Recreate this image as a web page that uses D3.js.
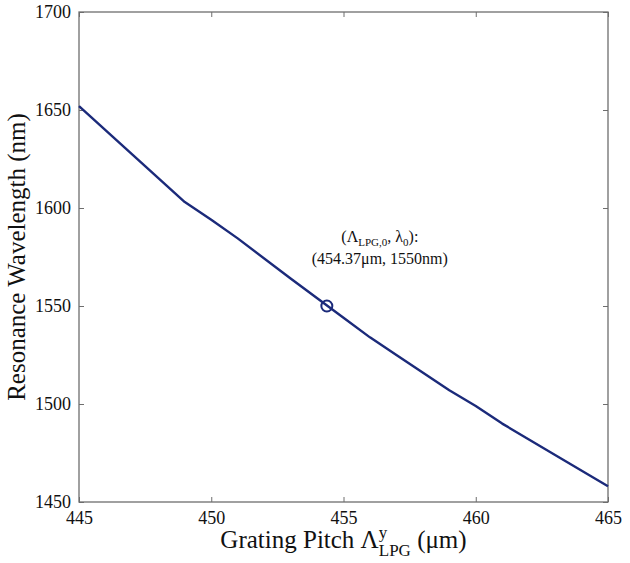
<!DOCTYPE html>
<html>
<head>
<meta charset="utf-8">
<script src="https://cdn.jsdelivr.net/npm/d3@7"></script>
<style>
  body { margin: 0; background: #fff; }
  svg text { font-family: "Liberation Serif", "DejaVu Serif", serif; fill: #111; }
</style>
</head>
<body>
<svg id="chart" width="630" height="563"></svg>
<script>
// data
const pitch = [445, 447, 449, 450, 451, 453, 455, 456, 457, 459, 460, 461, 463, 465];
const wavelength = [1652, 1627.5, 1603, 1594, 1584.5, 1564, 1544, 1534, 1525, 1507, 1499, 1490, 1474, 1458];
const xTicks = [445, 450, 455, 460, 465];
const yTicks = [1450, 1500, 1550, 1600, 1650, 1700];
const marker = [454.37, 1550];

const serif = '"Liberation Serif", "DejaVu Serif", serif';
const svg = d3.select('#chart');
const margin = {top: 12, right: 22, bottom: 61, left: 79},
    width = 630 - margin.left - margin.right,
    height = 563 - margin.top - margin.bottom;

const g = svg.append('g')
  .attr('transform', 'translate(' + margin.left + ',' + margin.top + ')');

const x = d3.scaleLinear().domain([445, 465]).range([0, width]);
const y = d3.scaleLinear().domain([1450, 1700]).range([height, 0]);

const axisColor = '#6e6e6e';

// ticks on all four sides, pointing inward
const styleAxis = (sel) => {
  sel.attr('font-family', serif).attr('font-size', 18);
  sel.select('.domain').remove();
  sel.selectAll('.tick line').attr('stroke', axisColor);
  sel.selectAll('.tick text')
    .style('font-family', serif)
    .style('font-size', '18px')
    .attr('fill', '#111');
};

g.append('g')
  .attr('transform', 'translate(0,' + height + ')')
  .call(d3.axisBottom(x).tickValues(xTicks).tickSizeInner(-5).tickSizeOuter(0).tickPadding(9).tickFormat(d3.format('d')))
  .call(styleAxis);

g.append('g')
  .call(d3.axisTop(x).tickValues(xTicks).tickSizeInner(-5).tickSizeOuter(0).tickFormat(''))
  .call(styleAxis);

g.append('g')
  .call(d3.axisLeft(y).tickValues(yTicks).tickSizeInner(-5).tickSizeOuter(0).tickPadding(8).tickFormat(d3.format('d')))
  .call(styleAxis);

g.append('g')
  .attr('transform', 'translate(' + width + ',0)')
  .call(d3.axisRight(y).tickValues(yTicks).tickSizeInner(-5).tickSizeOuter(0).tickFormat(''))
  .call(styleAxis);

// frame
g.append('rect')
  .attr('width', width)
  .attr('height', height)
  .attr('fill', 'none')
  .attr('stroke', axisColor)
  .attr('stroke-width', 1.3);

// curve
const lineColor = '#1b2a7a';
const pts = pitch.map((p, i) => [p, wavelength[i]]);
g.append('path')
  .datum(pts)
  .attr('fill', 'none')
  .attr('stroke', lineColor)
  .attr('stroke-width', 2.4)
  .attr('stroke-linejoin', 'round')
  .attr('d', d3.line().x(d => x(d[0])).y(d => y(d[1])));

g.append('circle')
  .attr('cx', x(marker[0]))
  .attr('cy', y(marker[1]))
  .attr('r', 5.5)
  .attr('fill', 'none')
  .attr('stroke', lineColor)
  .attr('stroke-width', 2);

// annotation
const ann1 = g.append('text')
  .attr('x', x(marker[0]) + 53)
  .attr('y', y(marker[1]) - 64)
  .attr('text-anchor', 'middle')
  .style('font-size', '16px');
ann1.append('tspan').text('(Λ');
ann1.append('tspan').attr('dy', 4).style('font-size', '11px').text('LPG,0');
ann1.append('tspan').attr('dy', -4).text(', λ');
ann1.append('tspan').attr('dy', 4).style('font-size', '11px').text('0');
ann1.append('tspan').attr('dy', -4).text('):');

g.append('text')
  .attr('x', x(marker[0]) + 53)
  .attr('y', y(marker[1]) - 42)
  .attr('text-anchor', 'middle')
  .style('font-size', '16px')
  .text('(454.37μm, 1550nm)');

// x axis title
const xt = svg.append('text')
  .attr('x', 0)
  .attr('y', 548)
  .style('font-size', '25px');
xt.append('tspan').text('Grating Pitch Λ');
const sup = xt.append('tspan').attr('dy', -10).style('font-size', '17px').text('y');
const supW = sup.node().getComputedTextLength();
xt.append('tspan').attr('dx', -supW).attr('dy', 18).style('font-size', '17px').text('LPG');
xt.append('tspan').attr('dy', -8).text(' (μm)');
const xtW = xt.node().getBBox().width;
xt.attr('x', margin.left + width / 2 - xtW / 2);

// y axis title
svg.append('text')
  .attr('transform', 'translate(25,' + (margin.top + height / 2) + ') rotate(-90)')
  .attr('text-anchor', 'middle')
  .style('font-size', '25px')
  .text('Resonance Wavelength (nm)');
</script>
</body>
</html>
